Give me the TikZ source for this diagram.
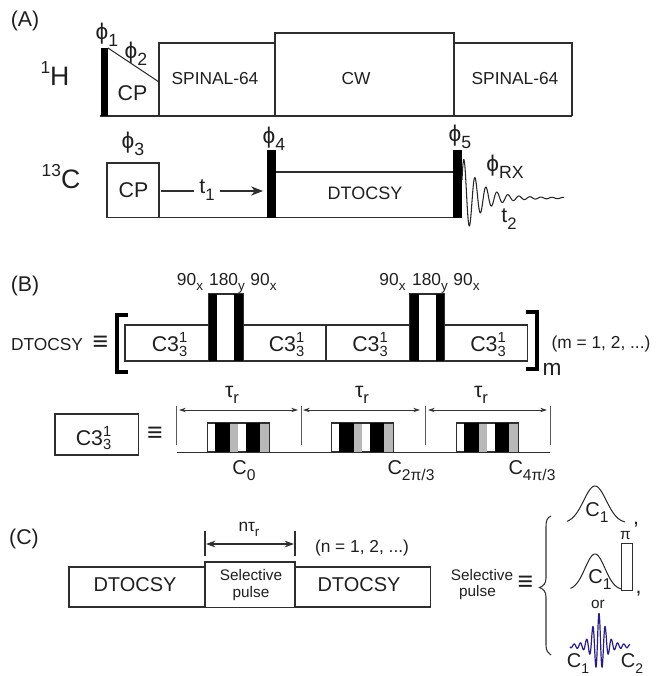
\documentclass[tikz,border=0pt]{standalone}
\usepackage{fontspec}
\setmainfont{Liberation Sans}
\usetikzlibrary{arrows.meta,calc}
\newcommand{\fs}[1]{\fontsize{#1}{#1}\selectfont}
\newcommand{\sbs}[2][0.78]{{\raisebox{-0.3em}{\fontsize{\the\dimexpr#1\fontdimen6\font\relax}{1pt}\selectfont #2}}}
\newcommand{\cthree}{C3{\fs{11}\rlap{\raisebox{6.6pt}{1}}\raisebox{-3.3pt}{3}}}
\newcommand{\phisym}{ϕ}
\tikzset{
  ln/.style={draw=black!82,line width=0.8pt,line join=miter},
  txt/.style={inner sep=0pt,outer sep=0pt,text=black!88,align=center},
  t13/.style={txt,font=\fs{13}},
  t11/.style={txt,font=\fs{11.5}},
  t15/.style={txt,font=\fs{15}},
  t16/.style={txt,font=\fs{16}},
  tphi/.style={txt,font=\fs{17}},
  t18/.style={txt,font=\fs{20}},
  teq/.style={txt,font=\fs{20}\bfseries},
  dim/.style={draw=black!80,line width=0.55pt,{Stealth[length=5pt,width=3.2pt]}-{Stealth[length=5pt,width=3.2pt]}},
  tick/.style={draw=black!65,line width=0.5pt},
  br/.style={draw=black,line width=3pt,line cap=butt,line join=miter},
}
\newcommand{\unit}[1]{%
  \begin{scope}[xshift=#1*0.75pt]
    \draw[ln,fill=white] (207.5,423) rectangle (269,452);
    \fill[black] (215,423) rectangle (230,452);
    \fill[black!28] (230,424) rectangle (238,451.5);
    \fill[black] (246,423) rectangle (260,452);
    \fill[black!28] (260,424) rectangle (268.5,451.5);
  \end{scope}}
\begin{document}
\begin{tikzpicture}[x=0.75pt,y=-0.75pt]
\useasboundingbox (0,0) rectangle (656,676);
\node[t16] (la) at (25,21) {(A)};
\node[t16] (lb) at (25,286) {(B)};
\node[t16] (lc) at (24,539) {(C)};
% 1H
\node[t18,anchor=base] (h1) at (55,85) {\raisebox{0.42em}{\fs{13}1}H};
\draw[ln] (108,48) -- (159,82);
\draw[ln] (100,116) -- (572,116);
\fill[black] (100.5,48) rectangle (108,116);
\draw[ln] (159,116) |- (275,43);
\draw[ln] (275,116) |- (454,33) -- (454,116);
\draw[ln] (454,43) -| (572,116);
\node[t16] (cp1) at (132.5,93) {CP};
\node[t13] (sp1) at (215,79) {SPINAL-64};
\node[t13] (cw) at (356,79) {CW};
\node[t13] (sp2) at (515,79) {SPINAL-64};
\node[tphi] (p1) at (107,35) {\phisym\sbs{1}};
\node[tphi] (p2) at (136,54) {\phisym\sbs{2}};
% 13C
\node[t18,anchor=base] (c13) at (61,188) {\raisebox{0.42em}{\fs{13}13}C};
\draw[ln] (107,217.5) rectangle (159,163);
\draw[ln] (159,217.5) -- (454,217.5);
\draw[ln] (276,172) -- (454,172);
\fill[black] (267,150) rectangle (276,217.5);
\fill[black] (453,150) rectangle (462,217.5);
\node[t16] (cp2) at (133.5,190.5) {CP};
\node[txt,font=\fs{13.5}] (dt) at (365,193) {DTOCSY};
\node[tphi] (p3) at (133,144) {\phisym\sbs{3}};
\node[tphi] (p4) at (274,139) {\phisym\sbs{4}};
\node[tphi] (p5) at (460,137) {\phisym\sbs{5}};
\node[tphi] (prx) at (505,167) {\phisym\sbs{RX}};
\node[t16] (t1) at (207,190) {t\sbs{1}};
\node[t16] (t2) at (509,219) {t\sbs{2}};
\coordinate (a0) at (161,191);
\coordinate (a1) at (194,191);
\coordinate (a2) at (220,191);
\coordinate (a3) at (263,191);
\draw[ln] (a0) -- (a1);
\draw[ln,-{Stealth[length=9pt,width=7pt]}] (a2) -- (a3);
\draw[black!85,line width=0.8pt,smooth] plot[domain=462:564,samples=300]
  (\x,{198-(40*exp(-(\x-463)/17)+0.5)*sin(32.727*(\x-461.25))});
% B top row
\node[t13] (eqn) at (47,345) {DTOCSY};
\node[teq] (eq1) at (100.5,343) {≡};
\draw[ln] (125,325) rectangle (527.5,361);
\draw[ln] (326,325) -- (326,361);
\draw[ln,fill=white] (208.5,294) rectangle (243,361);
\fill[black] (208.5,294) rectangle (217,361);
\fill[black] (234,294) rectangle (243,361);
\draw[ln,fill=white] (410,294) rectangle (444,361);
\fill[black] (410,294) rectangle (418.5,361);
\fill[black] (435.5,294) rectangle (444,361);
\draw[br] (128,314.5) -| (116.5,372) -- (128,372);
\draw[br] (526,312) -| (537,369) -- (526,369);
\node[t13,anchor=base] (a90) at (190,285) {90\sbs{x}};
\node[t13,anchor=base] (a180) at (227,285) {180\sbs{y}};
\node[t13,anchor=base] (a90b) at (263.5,285) {90\sbs{x}};
\node[t13,anchor=base] (b90) at (392.5,285) {90\sbs{x}};
\node[t13,anchor=base] (b180) at (430,285) {180\sbs{y}};
\node[t13,anchor=base] (b90b) at (466.5,285) {90\sbs{x}};
\node[t16,anchor=base] (c1) at (169.5,351.7) {\cthree};
\node[t16,anchor=base] (c2) at (286.5,351.7) {\cthree};
\node[t16,anchor=base] (c3) at (370,351.7) {\cthree};
\node[t16,anchor=base] (c4) at (488,351.7) {\cthree};
\node[txt,font=\fs{17}] (m) at (552,369) {m};
\node[t13] (mrange) at (601,344) {(m = 1, 2, ...)};
% B bottom row
\draw[ln] (55,414) rectangle (138.5,455);
\node[t16,anchor=base] (c5) at (93.5,445) {\cthree};
\node[teq] (eq2) at (155,434) {≡};
\unit{0}\unit{124}\unit{249}
\draw[ln] (177,452.5) -- (550,452.5);
\coordinate (k0) at (176.5,406); \coordinate (k0b) at (176.5,445);
\coordinate (k1) at (301,406); \coordinate (k1b) at (301,445);
\coordinate (k2) at (425,406); \coordinate (k2b) at (425,445);
\coordinate (k3) at (550,406); \coordinate (k3b) at (550,445);
\draw[tick] (k0) -- (k0b); \draw[tick] (k1) -- (k1b); \draw[tick] (k2) -- (k2b); \draw[tick] (k3) -- (k3b);
\draw[dim] (179,410) -- (298,410);
\draw[dim] (303,410) -- (420,410);
\draw[dim] (428,410) -- (547,410);
\node[t16] (tr1) at (232,395) {τ\sbs{r}};
\node[t16] (tr2) at (362,395) {τ\sbs{r}};
\node[t16] (tr3) at (481,395) {τ\sbs{r}};
\node[t15] (c0) at (244,471) {C\sbs{0}};
\node[t15] (c23) at (411,471) {C\sbs{2π/3}};
\node[t15] (c43) at (532,471) {C\sbs{4π/3}};
% C
\draw[ln] (69,567) rectangle (430.5,607);
\draw[ln,fill=white] (205,607) |- (295,562) -- (295,607);
\node[t15] (d1) at (135,585) {DTOCSY};
\node[t15] (d2) at (359,585) {DTOCSY};
\node[t11] (s1) at (251,575) {Selective};
\node[t11] (s2) at (251,594) {pulse};
\coordinate (q0) at (205,531); \coordinate (q0b) at (205,556);
\coordinate (q1) at (295,531); \coordinate (q1b) at (295,556);
\draw[ln] (q0) -- (q0b); \draw[ln] (q1) -- (q1b);
\draw[ln,{Stealth[length=7pt,width=5pt]}-{Stealth[length=7pt,width=5pt]}] (206,544) -- (294,544);
\node[t13] (ntr) at (249,529) {nτ\sbs{r}};
\node[t13] (nrange) at (362,548) {(n = 1, 2, ...)};
\node[t11] (s3) at (482,575) {Selective};
\node[t11] (s4) at (477.5,593) {pulse};
\node[teq] (eq3) at (525.5,583) {≡};
\draw[black!80,line width=0.8pt] (551,516) .. controls (547,518) and (546,520) .. (546,528)
  -- (546,578) .. controls (546,584) and (543,586) .. (539.5,587.5)
  .. controls (543,589) and (546,591) .. (546,597) -- (546,645) .. controls (546,651) and (548,653) .. (551,655);
\draw[black!85,line width=0.75pt,smooth] plot[domain=567:625,samples=80] (\x,{523-37*exp(-((\x-595)/16)^2)});
\draw[black!85,line width=0.75pt,smooth] plot[domain=570.5:621,samples=80] (\x,{590-36*exp(-((\x-595)/14)^2)});
\draw[ln,line width=0.7pt] (621,590) -- (621,543) -- (632,543) -- (632,590) -- cycle;
\node[t15] (g1) at (597,513) {C\sbs{1}};
\node[t15] (g2) at (600,580) {C\sbs{1}};
\node[t11] (pi) at (625.5,536) {π};
\node[t16] (cm1) at (636,525) {,};
\node[t16] (cm2) at (638.5,594) {,};
\node[t11] (or) at (598,604) {or};
\definecolor{wav}{RGB}{40,30,130}
\draw[wav,line width=0.9pt,smooth] plot[domain=570:630,samples=300]
  (\x,{646-4*exp(-((\x-599)/10)^2)-(20*exp(-((\x-599)/7)^2)+7*exp(-((\x-599)/15)^2)+1.5)*cos(58*(\x-599))});
\node[t15] (g3) at (578,664) {C\sbs[0.7]{1}};
\node[t15] (g4) at (632,664) {C\sbs[0.7]{2}};
\end{tikzpicture}
\end{document}
